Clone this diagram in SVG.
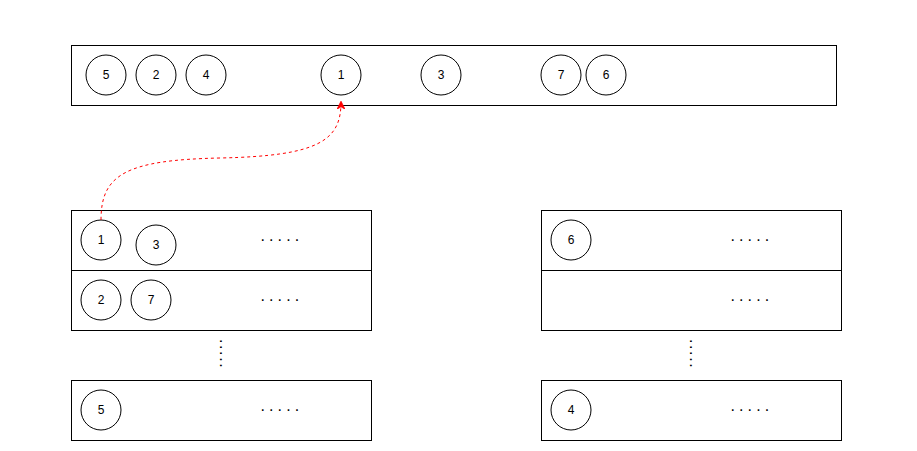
<svg xmlns="http://www.w3.org/2000/svg" width="917" height="451" viewBox="0 0 917 451">
<style>
.box{fill:#fff;stroke:#000;stroke-width:1}
.c{fill:#fff;stroke:#000;stroke-width:1}
.t{font-family:"Liberation Sans",Arial,sans-serif;font-size:12px;fill:#000;text-anchor:middle;dominant-baseline:central}
.d{font-family:"Liberation Sans",Arial,sans-serif;font-size:16px;fill:#000;letter-spacing:4.1px}
.v{font-family:"Liberation Sans",Arial,sans-serif;font-size:16px;fill:#000;letter-spacing:1.6px}
.edge{fill:none;stroke:#ff0000;stroke-width:1;stroke-dasharray:3 3}
</style>
<defs>
<marker id="arr" viewBox="0 0 10 10" refX="9" refY="5" markerWidth="8" markerHeight="8" orient="auto" markerUnits="userSpaceOnUse">
<path d="M0,0 L10,5 L0,10 L3,5 Z" fill="#ff0000" stroke="#ff0000"/>
</marker>
</defs>
<rect width="917" height="451" fill="#fff"/>
<g id="top-bar"><rect class="box" x="71.5" y="45.5" width="765" height="60"/></g>
<g id="left-row1"><rect class="box" x="71.5" y="210.5" width="300" height="60"/></g>
<g id="left-row2"><rect class="box" x="71.5" y="270.5" width="300" height="60"/></g>
<g id="left-row3"><rect class="box" x="71.5" y="380.5" width="300" height="60"/></g>
<g id="right-row1"><rect class="box" x="541.5" y="210.5" width="300" height="60"/></g>
<g id="right-row2"><rect class="box" x="541.5" y="270.5" width="300" height="60"/></g>
<g id="right-row3"><rect class="box" x="541.5" y="380.5" width="300" height="60"/></g>

<g id="top-5"><circle class="c" cx="106" cy="75" r="20"/><text class="t" x="106" y="75">5</text></g>
<g id="top-2"><circle class="c" cx="156" cy="75" r="20"/><text class="t" x="156" y="75">2</text></g>
<g id="top-4"><circle class="c" cx="206" cy="75" r="20"/><text class="t" x="206" y="75">4</text></g>
<g id="top-1"><circle class="c" cx="341" cy="75" r="20"/><text class="t" x="341" y="75">1</text></g>
<g id="top-3"><circle class="c" cx="441" cy="75" r="20"/><text class="t" x="441" y="75">3</text></g>
<g id="top-7"><circle class="c" cx="561" cy="75" r="20"/><text class="t" x="561" y="75">7</text></g>
<g id="top-6"><circle class="c" cx="606" cy="75" r="20"/><text class="t" x="606" y="75">6</text></g>

<g id="l-1"><circle class="c" cx="101" cy="240" r="20"/><text class="t" x="101" y="240">1</text></g>
<g id="l-3"><circle class="c" cx="156" cy="245" r="20"/><text class="t" x="156" y="245">3</text></g>
<g id="l-2"><circle class="c" cx="101" cy="300" r="20"/><text class="t" x="101" y="300">2</text></g>
<g id="l-7"><circle class="c" cx="151" cy="300" r="20"/><text class="t" x="151" y="300">7</text></g>
<g id="l-5"><circle class="c" cx="101" cy="410" r="20"/><text class="t" x="101" y="410">5</text></g>
<g id="r-6"><circle class="c" cx="571" cy="240" r="20"/><text class="t" x="571" y="240">6</text></g>
<g id="r-4"><circle class="c" cx="571" cy="410" r="20"/><text class="t" x="571" y="410">4</text></g>

<g id="dots">
<text class="d" x="260.5" y="241">.....</text>
<text class="d" x="260.5" y="301">.....</text>
<text class="d" x="260.5" y="411">.....</text>
<text class="d" x="730.5" y="241">.....</text>
<text class="d" x="730.5" y="301">.....</text>
<text class="d" x="730.5" y="411">.....</text>
<text class="v" transform="translate(220,339) rotate(90)" x="0" y="0">.....</text>
<text class="v" transform="translate(690,339) rotate(90)" x="0" y="0">.....</text>
</g>

<g id="connectors">
<path class="edge" d="M101,220 C101,175 125,160 220,158 C320,156 341,140 341,102" marker-end="url(#arr)"/>
</g>
</svg>
